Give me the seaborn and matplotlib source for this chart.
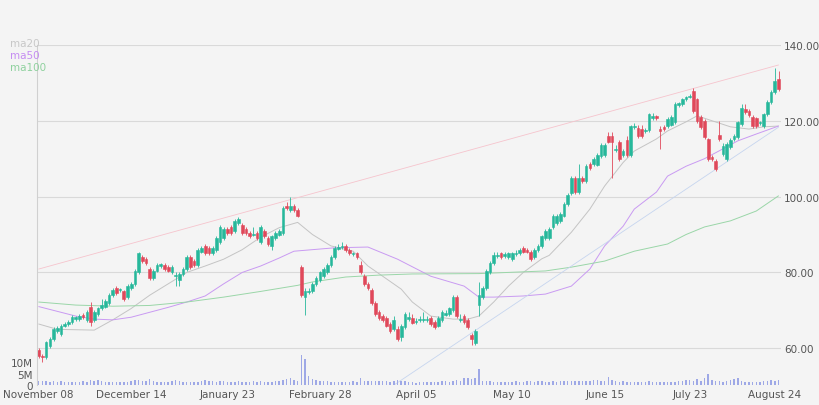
import numpy as np
import pandas as pd
import matplotlib
matplotlib.use("Agg")
import matplotlib.pyplot as plt
import seaborn as sns

# --- data (daily candles, index 0..200) ---
opens = [59.5,57.9,57.7,60.6,62.4,64.5,63.8,66.0,66.3,66.9,67.8,67.8,68.8,67.5,71.0,67.5,69.0,70.5,71.0,72.0,
         74.0,76.0,75.3,75.0,73.5,76.0,77.0,80.0,84.0,83.5,81.0,78.5,80.5,81.8,82.0,81.5,80.0,79.0,78.0,79.5,
         81.0,84.0,83.0,82.0,85.5,87.0,86.5,85.0,86.0,88.0,89.0,91.5,92.0,91.0,93.0,92.5,91.5,90.5,89.9,90.5,
         88.0,91.0,89.0,87.0,89.0,90.0,90.5,97.5,96.5,97.5,96.5,81.5,73.5,74.8,75.0,77.0,78.0,79.0,80.0,82.0,
         84.0,86.3,86.6,87.0,86.0,84.9,85.0,82.0,79.0,77.0,75.5,72.0,69.5,68.5,68.0,66.5,65.0,65.0,63.0,65.5,
         67.8,68.0,66.9,67.4,67.4,67.4,68.0,67.0,66.0,67.5,68.9,69.0,70.0,73.5,67.4,68.5,67.5,63.5,61.5,71.5,
         73.5,76.0,80.0,82.5,84.3,85.0,84.4,84.0,83.5,84.9,85.0,86.5,86.0,85.5,84.0,86.0,87.0,89.0,89.0,92.0,
         93.0,93.5,95.0,98.0,101.0,105.0,101.3,104.8,104.0,108.6,108.5,108.4,110.7,111.0,116.0,116.0,112.2,114.4,111.0,115.0,
         111.0,118.3,118.0,117.8,117.2,117.6,120.8,121.3,117.8,118.3,118.6,119.0,119.7,124.2,124.4,125.8,126.3,127.9,125.7,121.0,
         120.0,115.2,110.4,109.4,116.2,111.2,110.0,113.0,115.2,115.7,119.2,123.0,122.5,121.0,120.6,119.3,118.6,121.8,125.0,127.6,
         131.0]
closes = [58.0,57.7,61.6,62.4,65.0,65.3,66.0,66.5,67.0,68.2,68.1,68.5,68.2,69.5,67.0,69.5,70.5,71.5,72.5,74.0,
          75.5,74.5,75.6,73.0,76.5,77.0,80.5,85.0,83.0,82.5,78.5,80.5,82.0,82.1,81.0,80.5,81.5,79.2,79.5,81.0,
          84.0,81.5,82.0,86.0,86.5,85.0,85.0,86.5,89.0,92.0,91.5,90.5,90.5,93.5,94.0,90.5,90.5,89.5,90.1,89.0,
          92.0,89.5,87.5,89.5,90.5,90.8,97.0,97.0,97.5,96.5,95.0,74.0,75.0,75.2,77.0,78.5,80.0,81.0,82.0,84.0,
          86.5,86.6,86.9,86.0,85.0,85.1,84.0,80.0,77.0,76.0,72.0,69.0,68.0,67.5,66.0,64.5,67.5,62.5,66.0,69.0,
          68.1,66.8,67.1,67.6,67.6,67.6,66.5,65.5,68.0,69.5,69.1,70.5,73.5,68.5,67.6,67.0,65.5,62.4,64.5,74.0,
          76.0,80.5,82.5,84.5,84.6,84.0,84.6,85.0,85.0,85.1,86.0,85.5,85.5,83.5,86.0,87.0,89.5,91.0,91.5,94.9,
          95.0,95.5,98.0,100.4,105.0,101.3,105.0,104.0,108.0,107.5,110.0,111.0,113.6,113.5,114.4,114.5,112.5,110.0,112.0,111.0,
          118.6,118.6,116.0,116.0,117.6,121.8,121.2,120.8,117.2,117.9,120.5,121.0,124.4,124.5,125.7,126.1,126.6,122.6,120.0,118.4,
          115.8,110.0,110.0,107.3,115.2,113.4,113.9,115.0,115.9,119.7,123.4,122.3,121.4,118.6,118.6,119.7,121.8,125.0,127.6,130.5,
          128.4]
highs = [60.0,58.5,62.0,63.0,65.5,66.0,66.5,67.0,67.5,68.8,68.6,69.0,69.2,70.0,72.3,70.0,71.0,73.0,73.0,74.5,
         76.0,76.5,76.0,75.5,77.0,77.5,81.0,85.5,84.5,84.0,81.5,81.0,82.5,82.5,82.5,82.0,82.0,80.0,80.0,81.5,
         84.5,84.5,83.5,86.5,87.0,87.5,87.0,87.0,89.5,92.5,92.0,92.0,92.5,94.0,94.5,93.0,92.0,91.0,92.0,91.0,
         92.5,91.5,89.5,90.0,91.0,91.5,97.5,98.5,100.0,98.0,97.0,82.0,76.0,76.0,77.5,79.0,80.5,81.5,82.5,84.5,
         87.0,87.5,88.0,87.5,86.5,85.5,85.5,83.0,79.5,77.5,76.0,72.5,70.0,69.0,68.5,67.0,68.5,66.0,66.5,69.5,
         69.5,69.0,68.0,68.5,69.5,68.5,68.5,67.5,68.5,70.0,70.0,71.0,74.0,74.0,69.0,69.0,68.0,64.0,65.0,77.5,
         76.5,81.0,83.0,85.5,85.5,85.5,85.5,85.5,85.5,86.0,86.5,87.0,86.5,86.0,86.5,87.5,90.0,91.5,92.0,95.5,
         95.5,96.0,98.5,101.0,105.5,105.5,108.5,105.5,108.5,109.0,110.5,111.5,114.0,114.0,117.0,117.0,113.5,115.0,112.5,116.0,
         119.0,119.5,119.0,119.0,118.0,122.0,122.0,121.5,118.5,119.0,121.0,121.5,125.0,125.0,126.0,126.5,127.0,128.5,126.0,121.5,
         120.5,115.5,111.0,110.0,120.0,114.0,114.5,115.5,116.5,120.0,124.5,124.5,123.0,121.5,121.0,120.0,122.0,125.5,128.0,134.0,
         133.0]
lows = [57.5,56.3,57.2,60.0,62.0,64.0,63.3,65.5,66.0,66.5,67.3,67.3,67.8,67.0,66.0,67.0,68.5,70.0,70.5,71.5,
        73.5,74.0,74.8,72.5,73.0,75.5,76.5,79.5,82.5,82.0,78.0,78.0,80.0,81.3,80.5,80.0,79.5,76.5,76.5,79.0,
        80.5,81.0,81.5,81.5,85.0,84.5,84.5,84.5,85.5,87.5,88.5,90.0,90.0,90.5,92.5,90.0,90.0,89.0,89.5,88.5,
        87.5,89.0,87.0,86.0,88.5,89.5,90.0,96.5,96.0,96.0,94.5,73.5,68.8,74.3,74.5,76.5,77.5,78.5,79.5,81.5,
        83.5,85.8,86.1,85.5,84.5,84.4,83.5,79.5,76.5,75.5,71.5,68.5,67.5,67.0,65.5,64.0,64.5,62.0,62.0,65.0,
        67.3,66.3,66.4,66.9,66.9,66.9,66.0,65.0,65.5,67.0,68.4,68.5,69.5,68.0,66.9,66.5,65.0,61.0,61.0,68.5,
        73.0,75.5,79.5,82.0,83.8,83.5,83.9,83.5,83.0,84.4,84.5,85.0,85.0,83.0,83.5,85.5,86.5,88.5,88.5,91.5,
        92.5,93.0,94.5,97.5,100.5,100.8,100.8,103.5,103.5,107.0,108.0,108.0,110.2,110.5,114.0,105.0,111.8,109.5,110.5,110.5,
        110.5,117.8,115.5,115.5,116.8,117.0,120.3,120.3,112.5,117.4,118.0,118.5,119.2,123.7,124.0,125.3,126.0,122.0,119.5,117.9,
        115.3,109.5,109.5,106.8,114.7,110.7,109.5,112.5,114.7,115.2,118.7,121.8,120.9,118.1,118.1,118.8,118.1,121.3,124.5,127.1,
        127.9]
volumes_m = [1.8,2.0,1.6,1.5,1.7,1.4,1.6,1.3,1.5,1.2,1.4,1.3,1.6,1.5,2.3,1.9,2.2,1.7,1.5,1.2,
             1.4,1.3,1.2,1.5,1.4,1.9,2.1,2.4,1.8,1.6,2.5,1.7,1.4,1.3,1.5,1.4,1.7,2.2,1.6,1.4,
             1.3,1.2,1.5,1.4,1.8,2.4,1.9,1.6,1.5,1.7,1.6,1.5,1.3,1.4,1.6,1.2,1.3,1.4,1.7,1.5,
             1.6,1.3,1.4,1.5,1.6,1.9,2.2,2.8,3.2,2.4,1.9,13.0,11.3,3.9,2.8,2.2,2.0,1.8,1.6,1.5,
             1.4,1.3,1.5,1.2,1.3,1.6,1.4,2.9,2.0,1.8,1.7,2.0,1.6,1.9,1.7,1.5,1.8,2.2,1.9,1.6,
             1.4,1.2,1.1,1.3,1.2,1.2,1.5,1.3,1.4,1.9,1.6,1.4,1.6,2.3,1.6,3.0,3.3,2.7,3.3,7.0,
             1.8,2.0,1.6,1.3,1.5,1.2,1.4,1.3,1.5,1.6,1.3,1.4,1.6,1.7,1.5,1.8,1.6,1.4,1.5,1.6,
             1.5,1.7,1.6,1.8,2.0,1.9,1.7,1.6,1.8,1.9,2.2,2.3,2.0,1.8,3.6,2.2,1.7,1.5,1.6,1.5,
             1.4,1.5,1.3,1.4,1.3,1.6,1.5,1.4,1.3,1.5,1.2,1.4,1.3,1.6,1.9,2.2,2.4,1.8,2.6,2.0,
             3.2,5.0,2.2,1.8,1.6,1.5,1.7,2.1,2.6,3.3,1.8,1.5,1.4,1.3,1.4,1.5,1.6,2.0,2.3,1.8,
             2.4]

# moving averages, read every few candles
ma20_idx = [0,5,10,15,20,25,30,35,40,45,50,55,60,65,70,74,79,85,89,93,98,101,106,112,116,119,123,127,131,136,138,144,149,153,158,161,167,170,175,178,182,187,192,196,200]
ma20_val = [66.4,65.0,64.9,64.8,67.5,70.5,74.0,77.0,80.0,81.7,83.5,86.0,89.3,91.8,93.2,90.0,87.0,85.6,81.7,79.0,75.6,72.2,68.5,67.7,67.7,68.5,72.2,76.4,80.0,83.6,84.5,90.6,96.7,102.8,109.0,112.0,115.2,117.3,119.7,121.3,120.0,118.4,117.8,118.4,118.6]
ma50_idx = [0,10,15,20,25,30,35,40,45,50,55,60,65,69,80,89,97,106,115,119,123,131,137,144,149,153,158,161,167,170,175,180,185,189,194,200]
ma50_val = [71.0,68.5,67.7,67.5,68.2,69.5,70.8,72.2,73.8,77.0,80.0,81.7,83.8,85.6,86.5,86.7,83.5,79.0,76.4,73.5,73.5,73.8,74.3,76.4,80.9,87.0,92.2,96.7,101.2,105.4,108.0,110.0,112.6,114.7,116.5,118.6]
ma100_idx = [0,10,20,30,40,50,60,70,74,83,92,101,119,137,144,153,161,170,175,180,187,194,200]
ma100_val = [72.2,71.4,71.1,71.3,72.2,73.5,75.0,76.6,77.5,78.8,79.3,79.6,79.7,80.4,81.4,83.0,85.6,87.5,90.0,92.0,93.6,96.2,100.2]

# trend lines (start/end)
upper_trend_idx = [0, 200]
upper_trend_val = [80.9, 134.7]
lower_trend_idx = [96, 200]
lower_trend_val = [50.3, 118.3]

tick_pos = [0, 25, 51, 76, 102, 128, 153, 176, 199]
tick_labels = ["November 08", "December 14", "January 23", "February 28", "April 05",
               "May 10", "June 15", "July 23", "August 24"]

UP, DOWN = "#26b89b", "#e0485a"
BG = "#f4f4f4"

sns.set_style("white", {"axes.facecolor": BG, "figure.facecolor": BG})
plt.rcParams["font.family"] = ["DejaVu Sans"]

fig = plt.figure(figsize=(8.2, 4.06), dpi=100)
ax = fig.add_axes([0.045, 0.049, 0.908, 0.838])
axv = fig.add_axes([0.045, 0.049, 0.908, 0.838], sharex=ax)
axv.patch.set_alpha(0)

n = len(closes)
idx = np.arange(n)
o = np.array(opens); c = np.array(closes); h = np.array(highs); l = np.array(lows)

# volume
axv.bar(idx, np.array(volumes_m) * 1e6, width=0.4, color="#9ea8e6", linewidth=0, zorder=1)
axv.set_ylim(0, 148e6)
axv.set_yticks([0, 5e6, 10e6])
axv.set_yticklabels(["0", "5M", "10M"])
axv.tick_params(axis="y", labelsize=7.5, colors="#555555", length=2, pad=1)

# grid
for v in [60, 80, 100, 120, 140]:
    ax.axhline(v, color="#d9d9d9", lw=0.8, zorder=0)

# moving averages
sns.lineplot(x=ma20_idx, y=ma20_val, ax=ax, color="#c4c4c4", lw=0.7, zorder=2)
sns.lineplot(x=ma50_idx, y=ma50_val, ax=ax, color="#c99af2", lw=0.7, zorder=2)
sns.lineplot(x=ma100_idx, y=ma100_val, ax=ax, color="#9ad6a8", lw=0.7, zorder=2)
ax.plot(upper_trend_idx, upper_trend_val, color="#f6c4cd", lw=0.6, zorder=2)
ax.plot(lower_trend_idx, lower_trend_val, color="#c6d5ef", lw=0.6, zorder=2)

# candles
colors = np.where(c >= o, UP, DOWN)
ax.vlines(idx, l, h, colors=colors, lw=0.6, zorder=3)
body = np.maximum(np.abs(c - o), 0.35)
ax.bar(idx, body, bottom=np.minimum(o, c), width=0.72, color=colors,
       edgecolor=colors, linewidth=0.4, zorder=4)

ax.set_xlim(-0.5, n - 0.2)
ax.set_ylim(50.3, 140)
ax.yaxis.tick_right()
ax.set_yticks([60, 80, 100, 120, 140])
ax.set_yticklabels([f"{v:.2f}" for v in [60, 80, 100, 120, 140]])
ax.tick_params(axis="y", labelsize=7.5, colors="#555555", length=0, pad=2)
ax.set_xticks(tick_pos)
ax.set_xticklabels(tick_labels)
ax.tick_params(axis="x", labelsize=7.5, colors="#555555", length=0, pad=3)
axv.tick_params(axis="x", labelbottom=False, length=0)
for a in (ax, axv):
    for s in a.spines.values():
        s.set_visible(False)
axv.spines["left"].set_visible(True)
axv.spines["left"].set_color("#d0d0d0")
axv.spines["left"].set_linewidth(0.8)

# legend text
fig.text(10 / 820, 1 - 44 / 406, "ma20", color="#c8c8c8", fontsize=7.5, va="center")
fig.text(10 / 820, 1 - 56 / 406, "ma50", color="#c58cf2", fontsize=7.5, va="center")
fig.text(10 / 820, 1 - 68 / 406, "ma100", color="#8fd19e", fontsize=7.5, va="center")

fig.savefig("out.png", dpi=100, facecolor=BG)
